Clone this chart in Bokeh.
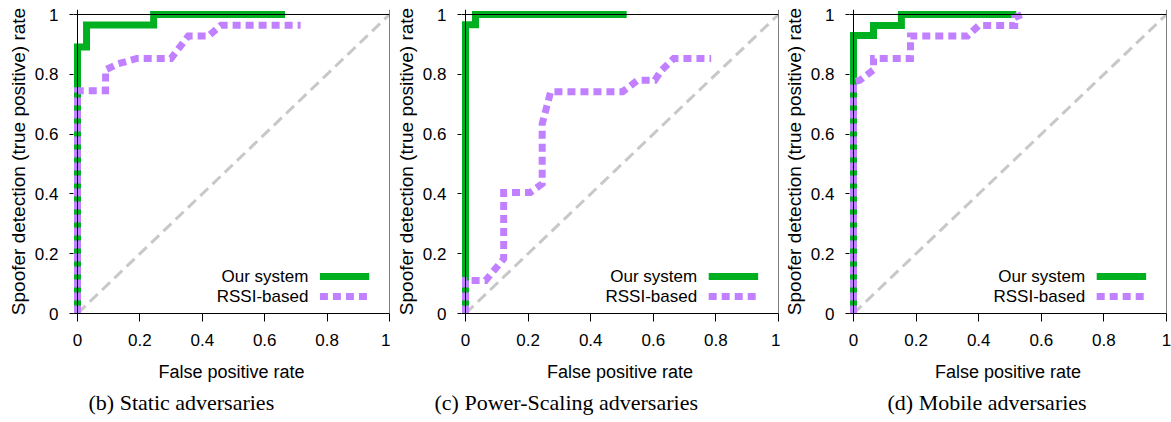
from bokeh.plotting import figure
from bokeh.layouts import row
from bokeh.models import Span, Title, FixedTicker
from bokeh.core.properties import value
from bokeh.embed import file_html
from bokeh.resources import INLINE

# ---------------- data ----------------
ticks = [0, 0.2, 0.4, 0.6, 0.8, 1]
tick_labels = ["0", "0.2", "0.4", "0.6", "0.8", "1"]
diag_x = [0, 1]
diag_y = [0, 1]
series_names = ["Our system", "RSSI-based"]
captions = ["(b) Static adversaries", "(c) Power-Scaling adversaries", "(d) Mobile adversaries"]
x_label = "False positive rate"
y_label = "Spoofer detection (true positive) rate"

# (b) Static adversaries
our_b_x = [0, 0, 0.029, 0.029, 0.244, 0.244, 0.665]
our_b_y = [0, 0.891, 0.891, 0.965, 0.965, 1.0, 1.0]
rssi_b_x = [0, 0, 0.09, 0.09, 0.13, 0.19, 0.30, 0.355, 0.42, 0.46, 0.715]
rssi_b_y = [0, 0.745, 0.745, 0.815, 0.835, 0.853, 0.853, 0.928, 0.928, 0.964, 0.964]

# (c) Power-Scaling adversaries
our_c_x = [0, 0, 0.032, 0.032, 0.515]
our_c_y = [0, 0.966, 0.966, 1.0, 1.0]
rssi_c_x = [0, 0, 0.064, 0.122, 0.122, 0.207, 0.245, 0.245, 0.272, 0.502, 0.55, 0.605, 0.625, 0.665, 0.785]
rssi_c_y = [0, 0.11, 0.11, 0.183, 0.405, 0.405, 0.434, 0.634, 0.742, 0.742, 0.78, 0.78, 0.812, 0.853, 0.853]

# (d) Mobile adversaries
our_d_x = [0, 0, 0.064, 0.064, 0.153, 0.153, 0.52]
our_d_y = [0, 0.93, 0.93, 0.963, 0.963, 1.0, 1.0]
rssi_d_x = [0, 0, 0.02, 0.064, 0.064, 0.182, 0.182, 0.364, 0.40, 0.515, 0.515, 0.54]
rssi_d_y = [0, 0.775, 0.78, 0.815, 0.853, 0.853, 0.928, 0.928, 0.963, 0.963, 0.99, 1.0]

panels = [
    (our_b_x, our_b_y, rssi_b_x, rssi_b_y, captions[0]),
    (our_c_x, our_c_y, rssi_c_x, rssi_c_y, captions[1]),
    (our_d_x, our_d_y, rssi_d_x, rssi_d_y, captions[2]),
]

# ---------------- style / layout ----------------
GREEN = "#00b020"
PURPLE = "#c080ff"
GRAY = "#c8c8c8"
SANS = "Liberation Sans"
SERIF = "Liberation Serif"

FIG_H = 422
TOP = 9
FRAME_H = 304
lefts = [73, 71, 69]
frame_widths = [316, 317, 317]
rights = [1, 2, 5]
cap_offsets = [15, -27, 38]

# legend layout (in axis fractions)
LEG_TEXT_X = 0.74
LEG_X0, LEG_X1 = 0.777, 0.935
LEG_LINE_Y = [0.124, 0.057]


def make_panel(ox, oy, rx, ry, caption, left, frw, right, cap_off):
    ppu_x = frw - 4
    x_start = -4.0 / ppu_x
    y_end = 1 + (FRAME_H - 299) / 299.0
    p = figure(frame_width=frw, frame_height=FRAME_H,
               output_backend="svg", toolbar_location=None,
               x_range=(x_start, 1), y_range=(0, y_end),
               min_border_left=left, min_border_right=right,
               min_border_top=TOP, min_border_bottom=FIG_H - TOP - FRAME_H)
    p.background_fill_color = "white"
    p.border_fill_color = "white"
    p.outline_line_color = None
    p.grid.visible = False

    # axes
    for ax in (p.xaxis, p.yaxis):
        ax.ticker = FixedTicker(ticks=ticks, minor_ticks=[])
        ax.major_label_overrides = dict(zip(ticks, tick_labels))
        ax.major_label_text_font = SANS
        ax.major_label_text_font_size = "17px"
        ax.major_label_text_color = "black"
        ax.major_tick_line_color = "black"
        ax.major_tick_in = 0
        ax.minor_tick_line_color = None
        ax.axis_label_text_font = SANS
        ax.axis_label_text_font_style = "normal"
        ax.axis_label_text_color = "black"
    p.xaxis.axis_label = x_label
    p.xaxis.axis_label_text_font_size = "18px"
    p.xaxis.major_tick_out = 8
    p.xaxis.major_label_standoff = 12
    p.xaxis.axis_label_standoff = 13
    p.xaxis.axis_line_color = "black"

    p.yaxis.axis_label = y_label
    p.yaxis.axis_label_text_font_size = "19px"
    p.yaxis.major_tick_out = 4
    p.yaxis.major_label_standoff = 11
    p.yaxis.axis_label_standoff = 3
    p.yaxis.axis_line_color = None

    # data
    p.line(diag_x, diag_y, line_color=GRAY, line_width=3, line_dash="11 6")
    p.line(ox, oy, line_color=GREEN, line_width=7, line_join="miter", line_cap="butt")
    p.line(rx, ry, line_color=PURPLE, line_width=7, line_dash="8 5", line_join="miter", line_cap="butt")

    # legend (gnuplot style: text then sample)
    p.text(x=[LEG_TEXT_X, LEG_TEXT_X], y=LEG_LINE_Y, text=series_names,
           text_align="right", text_baseline="middle",
           text_font=value(SANS), text_font_size="17px", text_color="black")
    p.line([LEG_X0, LEG_X1], [LEG_LINE_Y[0]] * 2, line_color=GREEN, line_width=7, line_cap="butt")
    p.line([LEG_X0, LEG_X1], [LEG_LINE_Y[1]] * 2, line_color=PURPLE, line_width=7,
           line_dash="8 5", line_cap="butt")

    # frame lines on top
    p.add_layout(Span(location=0, dimension="height", line_color="black", line_width=1))
    p.add_layout(Span(location=1, dimension="height", line_color="black", line_width=1))
    p.add_layout(Span(location=1, dimension="width", line_color="black", line_width=1))

    t = Title(text=caption, align="left", offset=cap_off, text_font=SERIF,
              text_font_size="22px", text_font_style="normal", text_color="black", standoff=6)
    p.add_layout(t, "below")
    return p


figs = [make_panel(*panels[i], lefts[i], frame_widths[i], rights[i], cap_offsets[i]) for i in range(3)]
layout = row(*figs, spacing=0)

open("out.html", "w").write(file_html(layout, INLINE))
